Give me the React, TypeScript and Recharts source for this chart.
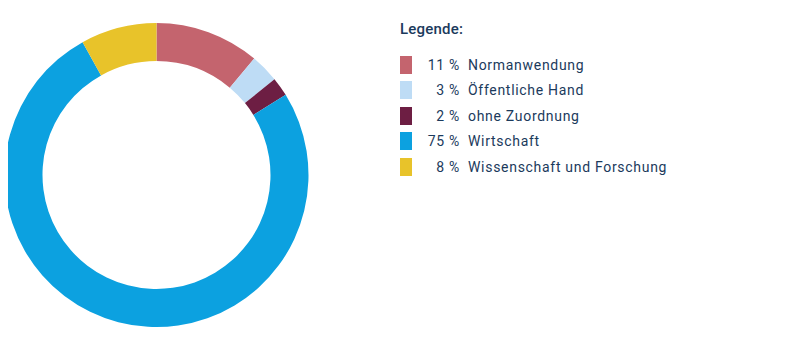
import React from 'react';
import { PieChart, Pie, Cell } from 'recharts';

// Anteile nach Bereich (in %)
const labels = ['Normanwendung', 'Öffentliche Hand', 'ohne Zuordnung', 'Wirtschaft', 'Wissenschaft und Forschung'];
const values = [11, 3, 2, 75, 8];
const colors = ['#c4646e', '#bedcf5', '#6d1e43', '#0ca1e0', '#e8c32a'];

const data = labels.map((name, i) => ({ name, value: values[i], color: colors[i] }));

const TEXT = '#1b3a5c';

// Legende rechts neben dem Ring
const LegendBox = () => (
  <div style={{ position: 'absolute', left: 400, top: 19, width: 340, fontFamily: 'Roboto, sans-serif', color: TEXT }}>
    <div style={{ fontSize: 15, fontWeight: 500, marginBottom: 13, height: 20, lineHeight: '20px', letterSpacing: 0.2 }}>Legende:</div>
    {data.map(d => (
      <div key={d.name} style={{ display: 'flex', alignItems: 'center', height: 25.5, fontSize: 14, letterSpacing: 0.7 }}>
        <span style={{ width: 12, height: 18, background: d.color, display: 'inline-block' }} />
        <span style={{ width: 48, textAlign: 'right', display: 'inline-block' }}>{d.value} %</span>
        <span style={{ marginLeft: 8 }}>{d.name}</span>
      </div>
    ))}
  </div>
);

export default function App() {
  return (
    <div style={{ margin: -8, width: 801, height: 351, background: '#fff', position: 'relative' }}>
      <PieChart width={801} height={351} margin={{ top: 0, right: 0, bottom: 0, left: 0 }}>
        <Pie
          data={data}
          dataKey="value"
          cx={156.5}
          cy={175}
          innerRadius={114}
          outerRadius={152}
          startAngle={90}
          endAngle={-270}
          stroke="none"
          isAnimationActive={false}
        >
          {data.map(d => (
            <Cell key={d.name} fill={d.color} />
          ))}
        </Pie>
      </PieChart>
      <LegendBox />
    </div>
  );
}
